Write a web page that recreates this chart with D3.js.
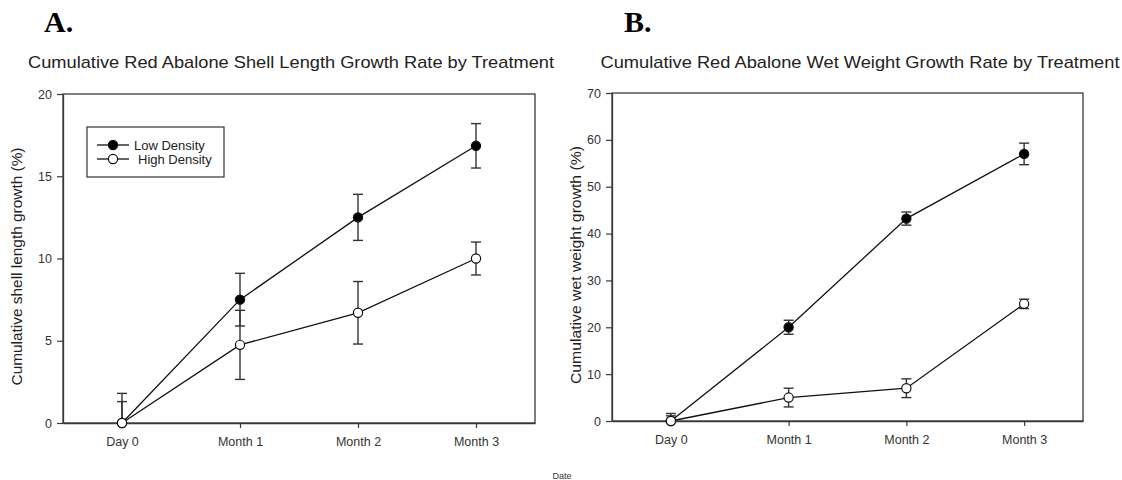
<!DOCTYPE html>
<html lang="en">
<head>
    <meta charset="UTF-8">
    <title>Red Abalone Growth by Treatment</title>
    <script src="https://d3js.org/d3.v7.min.js"></script>
    <style>
        body { margin: 0; background: #fff; }
        text { font-family: "Liberation Sans", Arial, sans-serif; }
    </style>
</head>
<body>
    <div id="my_dataviz"></div>

    <script>
        // data
        var dates = ["Day 0", "Month 1", "Month 2", "Month 3"];

        var shellLow = [0, 7.5, 12.5, 16.85];
        var shellLowErr = [1.8, 1.6, 1.4, 1.35];
        var shellHigh = [0, 4.75, 6.7, 10.0];
        var shellHighErr = [1.3, 2.1, 1.9, 1.0];

        var weightLow = [0, 20.0, 43.2, 57.0];
        var weightLowErr = [1.6, 1.5, 1.4, 2.3];
        var weightHigh = [0, 5.0, 7.0, 25.0];
        var weightHighErr = [1.1, 2.0, 2.0, 1.0];

        var shellTicks = [0, 5, 10, 15, 20];
        var weightTicks = [0, 10, 20, 30, 40, 50, 60, 70];

        const svg = d3.select("#my_dataviz")
            .append("svg")
            .attr("width", 1122)
            .attr("height", 480);

        function panel(opt) {
            var g = svg.append("g");

            const x = d3.scaleLinear()
                .domain([-0.5, dates.length - 0.5])
                .range([opt.left, opt.right]);
            const y = d3.scaleLinear()
                .domain([0, opt.ymax])
                .range([opt.bottom, opt.top]);

            // frame
            g.append("rect")
                .attr("x", opt.left).attr("y", opt.top)
                .attr("width", opt.right - opt.left)
                .attr("height", opt.bottom - opt.top)
                .attr("fill", "none")
                .attr("stroke", "#3a3a3a")
                .attr("stroke-width", 1.3);

            const xAxis = g.append("g")
                .attr("transform", `translate(0, ${opt.bottom})`)
                .call(d3.axisBottom(x).tickValues(d3.range(dates.length))
                    .tickFormat(function(i) { return dates[i]; })
                    .tickSize(5).tickSizeOuter(0).tickPadding(9));
            const yAxis = g.append("g")
                .attr("transform", `translate(${opt.left}, 0)`)
                .call(d3.axisLeft(y).tickValues(opt.ticks)
                    .tickSize(6).tickSizeOuter(0).tickPadding(5));
            [xAxis, yAxis].forEach(function(a) {
                a.select(".domain").attr("stroke", "#3a3a3a").attr("stroke-width", 1.3);
                a.selectAll(".tick line").attr("stroke", "#3a3a3a").attr("stroke-width", 1.2);
                a.selectAll(".tick text").attr("fill", "#333")
                    .style("font-size", "12.5px")
                    .style("font-family", "Liberation Sans, Arial, sans-serif");
            });

            // titles
            g.append("text")
                .attr("x", opt.labelX).attr("y", 32)
                .style("font-family", "Liberation Serif, Times New Roman, serif")
                .style("font-weight", "bold")
                .style("font-size", "30px")
                .text(opt.label);
            g.append("text")
                .attr("x", opt.titleX).attr("y", 68)
                .attr("text-anchor", "middle")
                .attr("textLength", opt.titleW)
                .attr("lengthAdjust", "spacingAndGlyphs")
                .style("font-size", "17px")
                .attr("fill", "#222")
                .text(opt.title);
            g.append("text")
                .attr("transform", `translate(${opt.ylabX}, ${(opt.top + opt.bottom) / 2 + 8}) rotate(-90)`)
                .attr("text-anchor", "middle")
                .attr("textLength", 238)
                .attr("lengthAdjust", "spacingAndGlyphs")
                .style("font-size", "15px")
                .attr("fill", "#222")
                .text(opt.ylab);

            var series = [
                { v: opt.low, e: opt.lowErr, fill: "#000" },
                { v: opt.high, e: opt.highErr, fill: "#fff" }
            ];

            series.forEach(function(s) {
                // error bars (Day 0 shows only the upper half)
                s.v.forEach(function(d, i) {
                    var hi = d + s.e[i], lo = i === 0 ? d : d - s.e[i];
                    g.append("line")
                        .attr("x1", x(i)).attr("x2", x(i))
                        .attr("y1", y(hi)).attr("y2", y(lo))
                        .attr("stroke", "#333").attr("stroke-width", 1.4);
                    g.append("line")
                        .attr("x1", x(i) - 5).attr("x2", x(i) + 5)
                        .attr("y1", y(hi)).attr("y2", y(hi))
                        .attr("stroke", "#333").attr("stroke-width", 1.4);
                    if (i > 0) {
                        g.append("line")
                            .attr("x1", x(i) - 5).attr("x2", x(i) + 5)
                            .attr("y1", y(lo)).attr("y2", y(lo))
                            .attr("stroke", "#333").attr("stroke-width", 1.4);
                    }
                });
            });

            series.forEach(function(s) {
                g.append("path")
                    .datum(s.v)
                    .attr("fill", "none")
                    .attr("stroke", "#111")
                    .attr("stroke-width", 1.3)
                    .attr("d", d3.line()
                        .x(function(d, i) { return x(i); })
                        .y(function(d) { return y(d); }));
            });

            series.forEach(function(s) {
                g.selectAll(null)
                    .data(s.v)
                    .enter()
                    .append("circle")
                    .attr("cx", function(d, i) { return x(i); })
                    .attr("cy", function(d) { return y(d); })
                    .attr("r", 4.6)
                    .attr("fill", s.fill)
                    .attr("stroke", "#111")
                    .attr("stroke-width", 1.2);
            });

            return g;
        }

        var gA = panel({
            left: 63, right: 535, top: 94, bottom: 423,
            ymax: 20, ticks: shellTicks,
            low: shellLow, lowErr: shellLowErr,
            high: shellHigh, highErr: shellHighErr,
            label: "A.", labelX: 44,
            title: "Cumulative Red Abalone Shell Length Growth Rate by Treatment", titleX: 291, titleW: 526,
            ylab: "Cumulative shell length growth (%)", ylabX: 22
        });

        panel({
            left: 612, right: 1083, top: 93, bottom: 421,
            ymax: 70, ticks: weightTicks,
            low: weightLow, lowErr: weightLowErr,
            high: weightHigh, highErr: weightHighErr,
            label: "B.", labelX: 624,
            title: "Cumulative Red Abalone Wet Weight Growth Rate by Treatment", titleX: 860, titleW: 519,
            ylab: "Cumulative wet weight growth (%)", ylabX: 581
        });

        // legend (panel A)
        var legend = gA.append("g");
        legend.append("rect")
            .attr("x", 87).attr("y", 127)
            .attr("width", 137).attr("height", 50)
            .attr("fill", "#fff")
            .attr("stroke", "#333").attr("stroke-width", 1.2);
        var legendItems = [
            { name: "Low Density", fill: "#000", y: 145, tx: 134 },
            { name: "High Density", fill: "#fff", y: 159, tx: 138 }
        ];
        legendItems.forEach(function(d) {
            legend.append("line")
                .attr("x1", 97).attr("x2", 129)
                .attr("y1", d.y).attr("y2", d.y)
                .attr("stroke", "#111").attr("stroke-width", 1.3);
            legend.append("circle")
                .attr("cx", 113).attr("cy", d.y).attr("r", 4.6)
                .attr("fill", d.fill).attr("stroke", "#111").attr("stroke-width", 1.2);
            legend.append("text")
                .attr("x", d.tx).attr("y", d.y + 4.5)
                .style("font-size", "13px")
                .attr("fill", "#222")
                .text(d.name);
        });

        // shared x-axis label
        svg.append("text")
            .attr("x", 562).attr("y", 479)
            .attr("text-anchor", "middle")
            .style("font-size", "9px")
            .attr("fill", "#333")
            .text("Date");
    </script>
</body>
</html>
